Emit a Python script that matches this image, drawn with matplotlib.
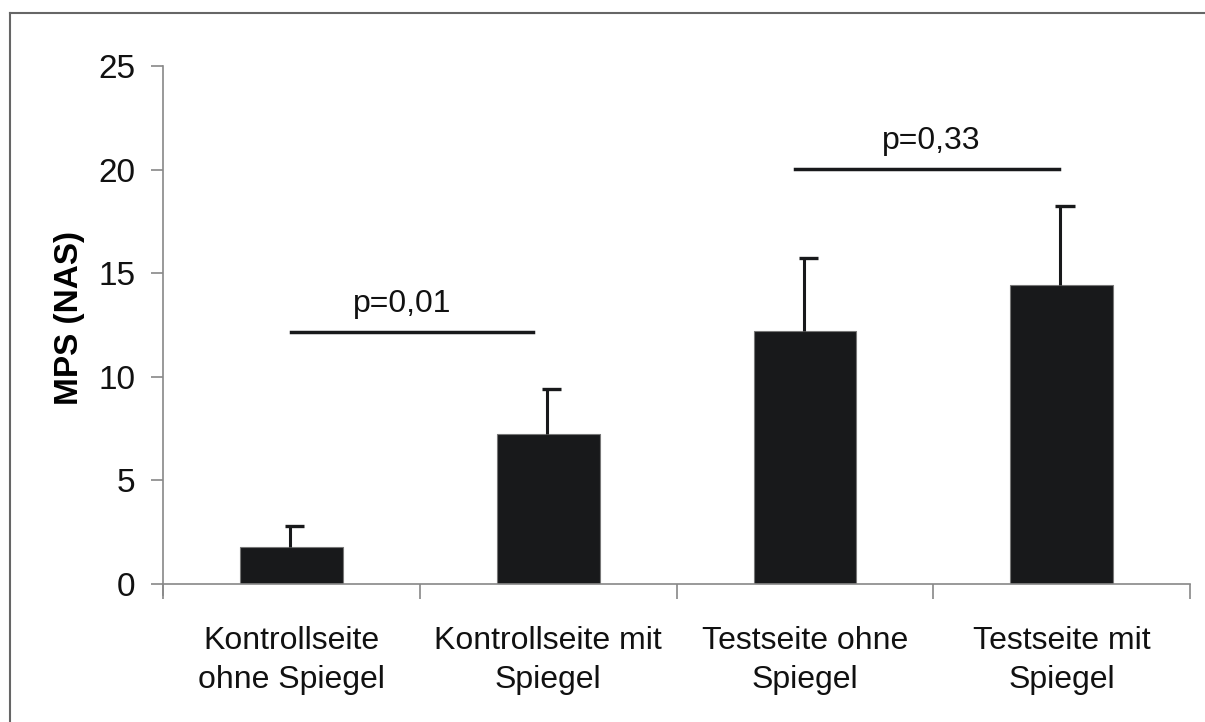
import numpy as np
import matplotlib.pyplot as plt
from matplotlib.lines import Line2D

plt.rcParams['font.family'] = ['Liberation Sans', 'DejaVu Sans']

# Data
categories = ["Kontrollseite\nohne Spiegel", "Kontrollseite mit\nSpiegel",
              "Testseite ohne\nSpiegel", "Testseite mit\nSpiegel"]
means = [1.77, 7.25, 12.2, 14.45]
errors = [1.03, 2.18, 3.55, 3.8]
yticks = [0, 5, 10, 15, 20, 25]

# Significance lines
sig_labels = ["p=0,01", "p=0,33"]
sig_start = [0.0, 1.96]
sig_end = [0.94, 2.99]
sig_height = [12.17, 20.05]
sig_text_x = [0.43, 2.49]

fig = plt.figure(figsize=(12.05, 7.22), dpi=100)
ax = fig.add_axes([0.1353, 0.1911, 0.8523, 0.7175])

x = np.arange(len(categories))
ax.bar(x, means, width=0.4, color="#18191b", edgecolor="#777777", linewidth=0.8, zorder=2)

# error bars (upper only)
tops = np.array(means) + np.array(errors)
ax.vlines(x - 0.005, means, tops, color="#18191b", lw=2.2, zorder=3)
ax.hlines(tops, x - 0.025, x + 0.05, color="#18191b", lw=2.4, zorder=3)

for s0, s1, h, tx, lab in zip(sig_start, sig_end, sig_height, sig_text_x, sig_labels):
    ax.plot([s0, s1], [h, h], color="#18191b", lw=2.5, zorder=3)
    ax.text(tx, h + 0.95, lab, ha="center", va="baseline", fontsize=23, color="#111111")

ax.set_xlim(-0.5, 3.5)
ax.set_ylim(0, 25)
ax.set_yticks(yticks)
ax.set_xticks(x)
ax.set_xticklabels(categories, fontsize=23, color="#111111", linespacing=1.42)
ax.set_xticks(np.arange(-0.5, 4.0, 1.0), minor=True)
ax.tick_params(axis="x", which="major", length=0, pad=30)
ax.tick_params(axis="x", which="minor", length=11, color="#888888", width=1.2)
ax.tick_params(axis="y", length=9, color="#888888", width=1.2, pad=11,
               labelsize=24, labelcolor="#111111")

for s in ["top", "right"]:
    ax.spines[s].set_visible(False)
for s in ["left", "bottom"]:
    ax.spines[s].set_color("#888888")
    ax.spines[s].set_linewidth(1.2)
ax.spines["left"].set_bounds(-0.55, 25)

ax.set_ylabel("MPS (NAS)", fontsize=24, fontweight="bold")
ax.yaxis.set_label_coords(-0.076, 0.514)

# Figure frame (top and left edges)
fig.add_artist(Line2D([10 / 1205, 1.0], [1 - 13 / 722, 1 - 13 / 722],
                      transform=fig.transFigure, color="#666666", lw=1.5))
fig.add_artist(Line2D([10 / 1205, 10 / 1205], [0, 1 - 13 / 722],
                      transform=fig.transFigure, color="#666666", lw=1.5))

fig.savefig("out.png", dpi=100)
